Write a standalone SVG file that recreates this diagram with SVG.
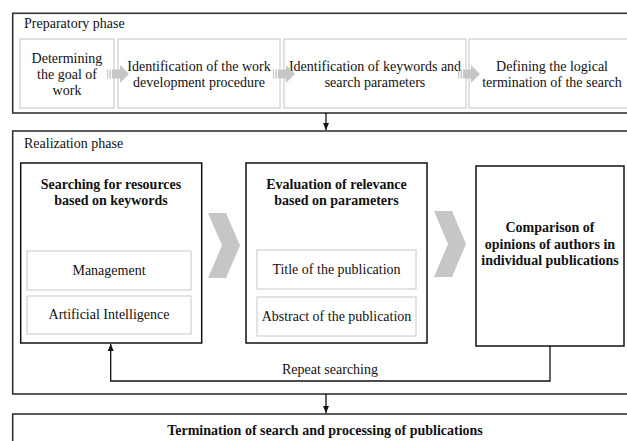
<svg xmlns="http://www.w3.org/2000/svg" width="627" height="441" viewBox="0 0 627 441">
  <defs>
    <style>
      text { font-family: "Liberation Serif", "Times New Roman", serif; font-size: 14px; fill: #111; }
      .c { text-anchor: middle; }
      .b { font-weight: bold; }
      .phase { fill: none; stroke: #333; stroke-width: 1.6; }
      .step { fill: #fff; stroke: #c4c4c4; stroke-width: 1; }
      .main { fill: #fff; stroke: #111; stroke-width: 1.5; }
      .item { fill: #fff; stroke: #c8c8c8; stroke-width: 1; }
      .gray { fill: #c6c6c6; }
      .link { fill: none; stroke: #111; stroke-width: 1.3; }
    </style>
    <marker id="ah" markerWidth="8" markerHeight="8" refX="7" refY="4" orient="auto" markerUnits="userSpaceOnUse">
      <path d="M0,1 L7,4 L0,7 z" fill="#111"/>
    </marker>
    <!-- striped block arrow between preparatory steps -->
    <g id="blockArrow">
      <rect x="0" y="-4.5" width="1.2" height="9" class="gray"/>
      <rect x="2.5" y="-4.5" width="1.5" height="9" class="gray"/>
      <rect x="5" y="-4.5" width="8" height="9" class="gray"/>
      <path d="M13,-9 L22,0 L13,9 z" class="gray"/>
    </g>
  </defs>

  <!-- Preparatory phase -->
  <g id="preparatory-phase">
    <rect x="12.7" y="13.3" width="620" height="99.7" class="phase"/>
    <text x="24" y="28" font-size="13">Preparatory phase</text>
  </g>
  <g id="step-goal">
    <rect x="20" y="39" width="94" height="69" class="step"/>
    <text x="67" y="63" class="c">Determining</text>
    <text x="67" y="79" class="c">the goal of</text>
    <text x="67" y="95" class="c">work</text>
  </g>
  <g id="step-procedure">
    <rect x="118" y="39" width="162" height="69" class="step"/>
    <text x="199" y="71" class="c">Identification of the work</text>
    <text x="199" y="87" class="c">development procedure</text>
  </g>
  <g id="step-keywords">
    <rect x="284" y="39" width="182" height="69" class="step"/>
    <text x="375" y="71" class="c">Identification of keywords and</text>
    <text x="375" y="87" class="c">search parameters</text>
  </g>
  <g id="step-termination">
    <rect x="469" y="39" width="170" height="69" class="step"/>
    <text x="552" y="71" class="c">Defining the logical</text>
    <text x="552" y="87" class="c">termination of the search</text>
  </g>

  <!-- Realization phase -->
  <g id="realization-phase">
    <rect x="12.7" y="131" width="620" height="263" class="phase" stroke="#111"/>
    <text x="24" y="148" font-size="13">Realization phase</text>
  </g>
  <g id="searching">
    <rect x="20.7" y="163" width="181" height="180" class="main"/>
    <text x="111" y="189" class="c b">Searching for resources</text>
    <text x="111" y="205" class="c b">based on keywords</text>
  </g>
  <g id="kw-management">
    <rect x="27" y="251" width="164" height="39" class="item"/>
    <text x="109" y="275" class="c">Management</text>
  </g>
  <g id="kw-ai">
    <rect x="27" y="296" width="164" height="38" class="item"/>
    <text x="109" y="319" class="c">Artificial Intelligence</text>
  </g>
  <g id="evaluation">
    <rect x="246" y="163" width="181" height="180" class="main"/>
    <text x="336.5" y="189" class="c b">Evaluation of relevance</text>
    <text x="336.5" y="205" class="c b">based on parameters</text>
  </g>
  <g id="param-title">
    <rect x="257" y="250" width="159" height="39" class="item"/>
    <text x="336.5" y="274" class="c">Title of the publication</text>
  </g>
  <g id="param-abstract">
    <rect x="257" y="297" width="159" height="39" class="item"/>
    <text x="336.5" y="321" class="c">Abstract of the publication</text>
  </g>
  <g id="comparison">
    <rect x="476" y="166" width="148" height="180" class="main"/>
    <text x="550" y="232" class="c b">Comparison of</text>
    <text x="550" y="249" class="c b">opinions of authors in</text>
    <text x="550" y="265" class="c b">individual publications</text>
  </g>

  <!-- Termination -->
  <g id="termination">
    <rect x="12.7" y="414" width="620" height="40" class="phase" stroke="#111"/>
    <text x="325" y="435" class="c b">Termination of search and processing of publications</text>
  </g>

  <!-- Connectors -->
  <g id="connectors">
    <use href="#blockArrow" x="107" y="74"/>
    <use href="#blockArrow" x="273" y="74"/>
    <use href="#blockArrow" x="458" y="74"/>
    <path d="M208,213 L226,213 L240,245.5 L226,278 L208,278 L222,245.5 z" class="gray"/>
    <path d="M434,211 L452,211 L466,244 L452,277 L434,277 L448,244 z" class="gray"/>
    <line x1="326" y1="113" x2="326" y2="130" class="link" marker-end="url(#ah)"/>
    <line x1="326" y1="394" x2="326" y2="413" class="link" marker-end="url(#ah)"/>
    <path d="M550,346 L550,381 L110.7,381 L110.7,344" class="link" marker-end="url(#ah)"/>
    <text x="330" y="374" class="c">Repeat searching</text>
  </g>
</svg>
